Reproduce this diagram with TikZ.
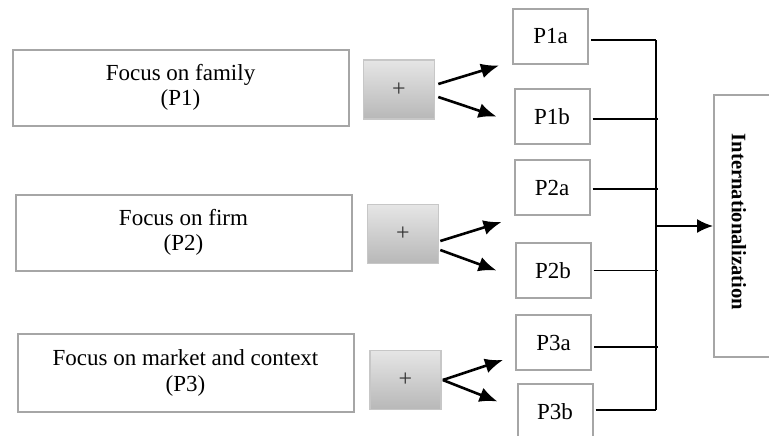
\documentclass[tikz,border=0pt]{standalone}
\usepackage{fontspec}
\setmainfont{Liberation Serif}
\usetikzlibrary{arrows.meta}

\tikzset{
  focus/.style={draw=black!35, line width=1pt, minimum width=168pt, minimum height=38pt, align=center, font=\fontsize{11.5}{12.8}\selectfont},
  plusbox/.style={draw=black!22, line width=0.8pt, top color=black!10, bottom color=black!28, minimum width=35.5pt, minimum height=29.5pt, text=black!80, font=\fontsize{12}{13}\selectfont},
  prop/.style={draw=black!35, line width=1pt, minimum width=37.5pt, minimum height=27.5pt, font=\fontsize{11.5}{13}\selectfont},
  intbox/.style={draw=black!35, line width=1pt, minimum width=43pt, minimum height=131pt},
  link/.style={line width=0.75pt},
  effect/.style={line width=1.3pt, -{Latex[length=9pt,width=7.5pt]}},
}

\begin{document}
\begin{tikzpicture}[x=0.5pt, y={(0pt,-0.5pt)}]
\useasboundingbox (0,0) rectangle (769,435);
\clip (0,0) rectangle (769,435);

\node [focus] (fam) at (180.5,87.5) {Focus on family\\(P1)};
\node [focus] (firm) at (183.5,232.5) {Focus on firm\\(P2)};
\node [focus, minimum height=39pt] (mkt) at (185.5,373) {Focus on market and context\\(P3)};

\node [plusbox] (plus1) at (399,89.5) {+};
\node [plusbox] (plus2) at (403,234) {+};
\node [plusbox] (plus3) at (405.5,380) {+};

\node [prop] (P1a) at (550.5,36) {P1a};
\node [prop] (P1b) at (552,116.5) {P1b};
\node [prop] (P2a) at (552,187.5) {P2a};
\node [prop] (P2b) at (553,270.5) {P2b};
\node [prop] (P3a) at (553.5,342.5) {P3a};
\node [prop] (P3b) at (555,411.5) {P3b};

\node [intbox] (int) at (757,226) {};
\node [rotate=-90, font=\fontsize{10.3}{12}\selectfont\bfseries] (intlabel) at (739,222) {Internationalization};

\draw [effect] ([shift={(3,-5.5)}]plus1.east) -- ([shift={(-13,1)}]P1a.south west);
\draw [effect] ([shift={(3,7.5)}]plus1.east) -- ([shift={(-17,0)}]P1b.west);
\draw [effect] ([shift={(1,7)}]plus2.east) -- ([shift={(-12,6)}]P2a.south west);
\draw [effect] ([shift={(1,16)}]plus2.east) -- ([shift={(-18,0)}]P2b.west);
\draw [effect] ([shift={(1,0)}]plus3.east) -- ([shift={(-12,-11)}]P3a.south west);
\draw [effect] ([shift={(1,0)}]plus3.east) -- ([shift={(-19,-10)}]P3b.west);

\coordinate (bustop) at (656,40);
\coordinate (busbot) at (656,410);
\coordinate (busout) at (656,226);

\draw [link] ([shift={(2,4)}]P1a.east) -- (bustop);
\draw [link] ([shift={(2,2.5)}]P1b.east) -- ([shift={(2,2.5)}]P1b.east -| bustop);
\draw [link] ([shift={(2,1.5)}]P2a.east) -- ([shift={(2,1.5)}]P2a.east -| bustop);
\draw [link] ([shift={(2,0)}]P2b.east) -- ([shift={(2,0)}]P2b.east -| bustop);
\draw [link] ([shift={(2,4.5)}]P3a.east) -- ([shift={(2,4.5)}]P3a.east -| bustop);
\draw [link] ([shift={(2,-1.5)}]P3b.east) -- (busbot);
\draw [link] (bustop) -- (busbot);
\draw [link, line width=0.9pt, -{Latex[length=8pt,width=7pt]}] (busout) -- (int.west);
\end{tikzpicture}
\end{document}
